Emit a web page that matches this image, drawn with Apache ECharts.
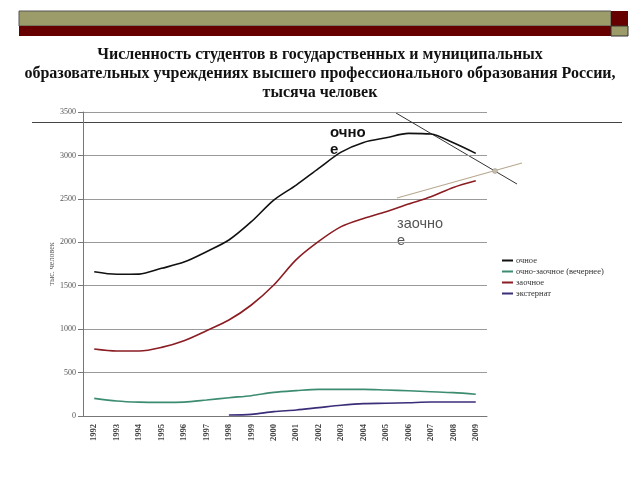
<!DOCTYPE html>
<html><head><meta charset="utf-8">
<script src="https://cdn.jsdelivr.net/npm/echarts@6/dist/echarts.min.js"></script>
<style>html,body{margin:0;padding:0;background:#fff}#c{width:640px;height:480px}</style>
</head><body><div id="c"></div>
<script>
var years = ['1992','1993','1994','1995','1996','1997','1998','1999','2000','2001','2002','2003','2004','2005','2006','2007','2008','2009'];
var fullTime = [1661,1632,1634,1700,1772,1892,2026,2237,2486,2659,2851,3038,3150,3203,3254,3246,3146,3024];
var eveningPart = [203,173,160,157,160,184,211,234,272,292,307,307,307,299,291,280,269,250];
var extramural = [771,748,748,790,867,982,1105,1278,1508,1800,2010,2180,2275,2352,2440,2524,2632,2709];
var externship = [null,null,null,null,null,null,11,19,50,69,96,123,142,146,153,161,161,161];
var seriesNames = ['очное','очно-заочное (вечернее)','заочное','экстернат'];
var yTicks = {min:0, max:3500, interval:500};

var chart = echarts.init(document.getElementById('c'));
var serif = '"Liberation Serif","DejaVu Serif",serif';
chart.setOption({
  animation:false,
  backgroundColor:'#fff',
  title:{
    text:'Численность студентов в государственных и муниципальных\nобразовательных учреждениях высшего профессионального образования России,\nтысяча человек',
    left:'center', top:40,
    textStyle:{fontFamily:serif,fontWeight:'bold',fontSize:16,lineHeight:19,color:'#111'}
  },
  legend:{
    orient:'vertical', left:497, top:251, itemGap:2, itemWidth:11, itemHeight:2,
    icon:'rect',
    textStyle:{fontFamily:serif,fontSize:8.5,color:'#333',padding:[0,0,0,-2]},
    data:seriesNames
  },
  grid:{left:83,right:153,top:112,bottom:64},
  xAxis:{
    type:'category', data:years, boundaryGap:true,
    axisLine:{lineStyle:{color:'#777'}},
    axisTick:{show:false},
    axisLabel:{rotate:90,fontFamily:serif,fontSize:8.5,fontWeight:'bold',color:'#444',margin:8}
  },
  yAxis:{
    type:'value', min:yTicks.min, max:yTicks.max, interval:yTicks.interval,
    name:'тыс. человек', nameLocation:'middle', nameGap:27, nameRotate:90, nameMoveOverlap:false,
    nameTextStyle:{fontFamily:serif,fontSize:8,color:'#555'},
    axisLine:{show:true,lineStyle:{color:'#777'}},
    axisTick:{show:true,length:5,lineStyle:{color:'#777'}},
    axisLabel:{fontFamily:serif,fontSize:8,color:'#555',margin:7,formatter:function(v){return String(v);}},
    splitLine:{lineStyle:{color:'#9a9a9a',width:1}}
  },
  series:[
    {name:seriesNames[0],type:'line',smooth:0.3,showSymbol:false,data:fullTime,lineStyle:{color:'#111',width:1.6},itemStyle:{color:'#111'}},
    {name:seriesNames[1],type:'line',smooth:0.3,showSymbol:false,data:eveningPart,lineStyle:{color:'#3c8c70',width:1.6},itemStyle:{color:'#3c8c70'}},
    {name:seriesNames[2],type:'line',smooth:0.3,showSymbol:false,data:extramural,lineStyle:{color:'#8b1c22',width:1.6},itemStyle:{color:'#8b1c22'}},
    {name:seriesNames[3],type:'line',smooth:0.3,showSymbol:false,data:externship,lineStyle:{color:'#3b2d78',width:1.6},itemStyle:{color:'#3b2d78'}}
  ],
  graphic:[
    {type:'rect',shape:{x:19,y:11,width:592,height:15},style:{fill:'#9c9c6a',stroke:'#555',lineWidth:1}},
    {type:'rect',shape:{x:19,y:26,width:592,height:10},style:{fill:'#660000'}},
    {type:'rect',shape:{x:611,y:11,width:17,height:15},style:{fill:'#660000'}},
    {type:'rect',shape:{x:611,y:26,width:17,height:10},style:{fill:'#9c9c6a',stroke:'#333',lineWidth:1}},
    {type:'line',shape:{x1:32,y1:122.5,x2:622,y2:122.5},style:{stroke:'#444',lineWidth:1.2}},
    {type:'line',shape:{x1:396,y1:113,x2:517,y2:184},style:{stroke:'#333',lineWidth:1}},
    {type:'line',shape:{x1:397,y1:198,x2:522,y2:163},style:{stroke:'#b8a890',lineWidth:1.2}},
    {type:'circle',shape:{cx:495,cy:171,r:2.5},style:{fill:'#c8bca8',stroke:'#999',lineWidth:0.5}},
    {type:'text',left:330,top:124,style:{text:'очно\nе',fontFamily:'"Liberation Sans",Arial,sans-serif',fontWeight:'bold',fontSize:15,lineHeight:17,fill:'#111'}},
    {type:'text',left:397,top:215,style:{text:'заочно\nе',fontFamily:'"Liberation Sans",Arial,sans-serif',fontSize:14.5,lineHeight:17,fill:'#555'}}
  ]
});
</script></body></html>
